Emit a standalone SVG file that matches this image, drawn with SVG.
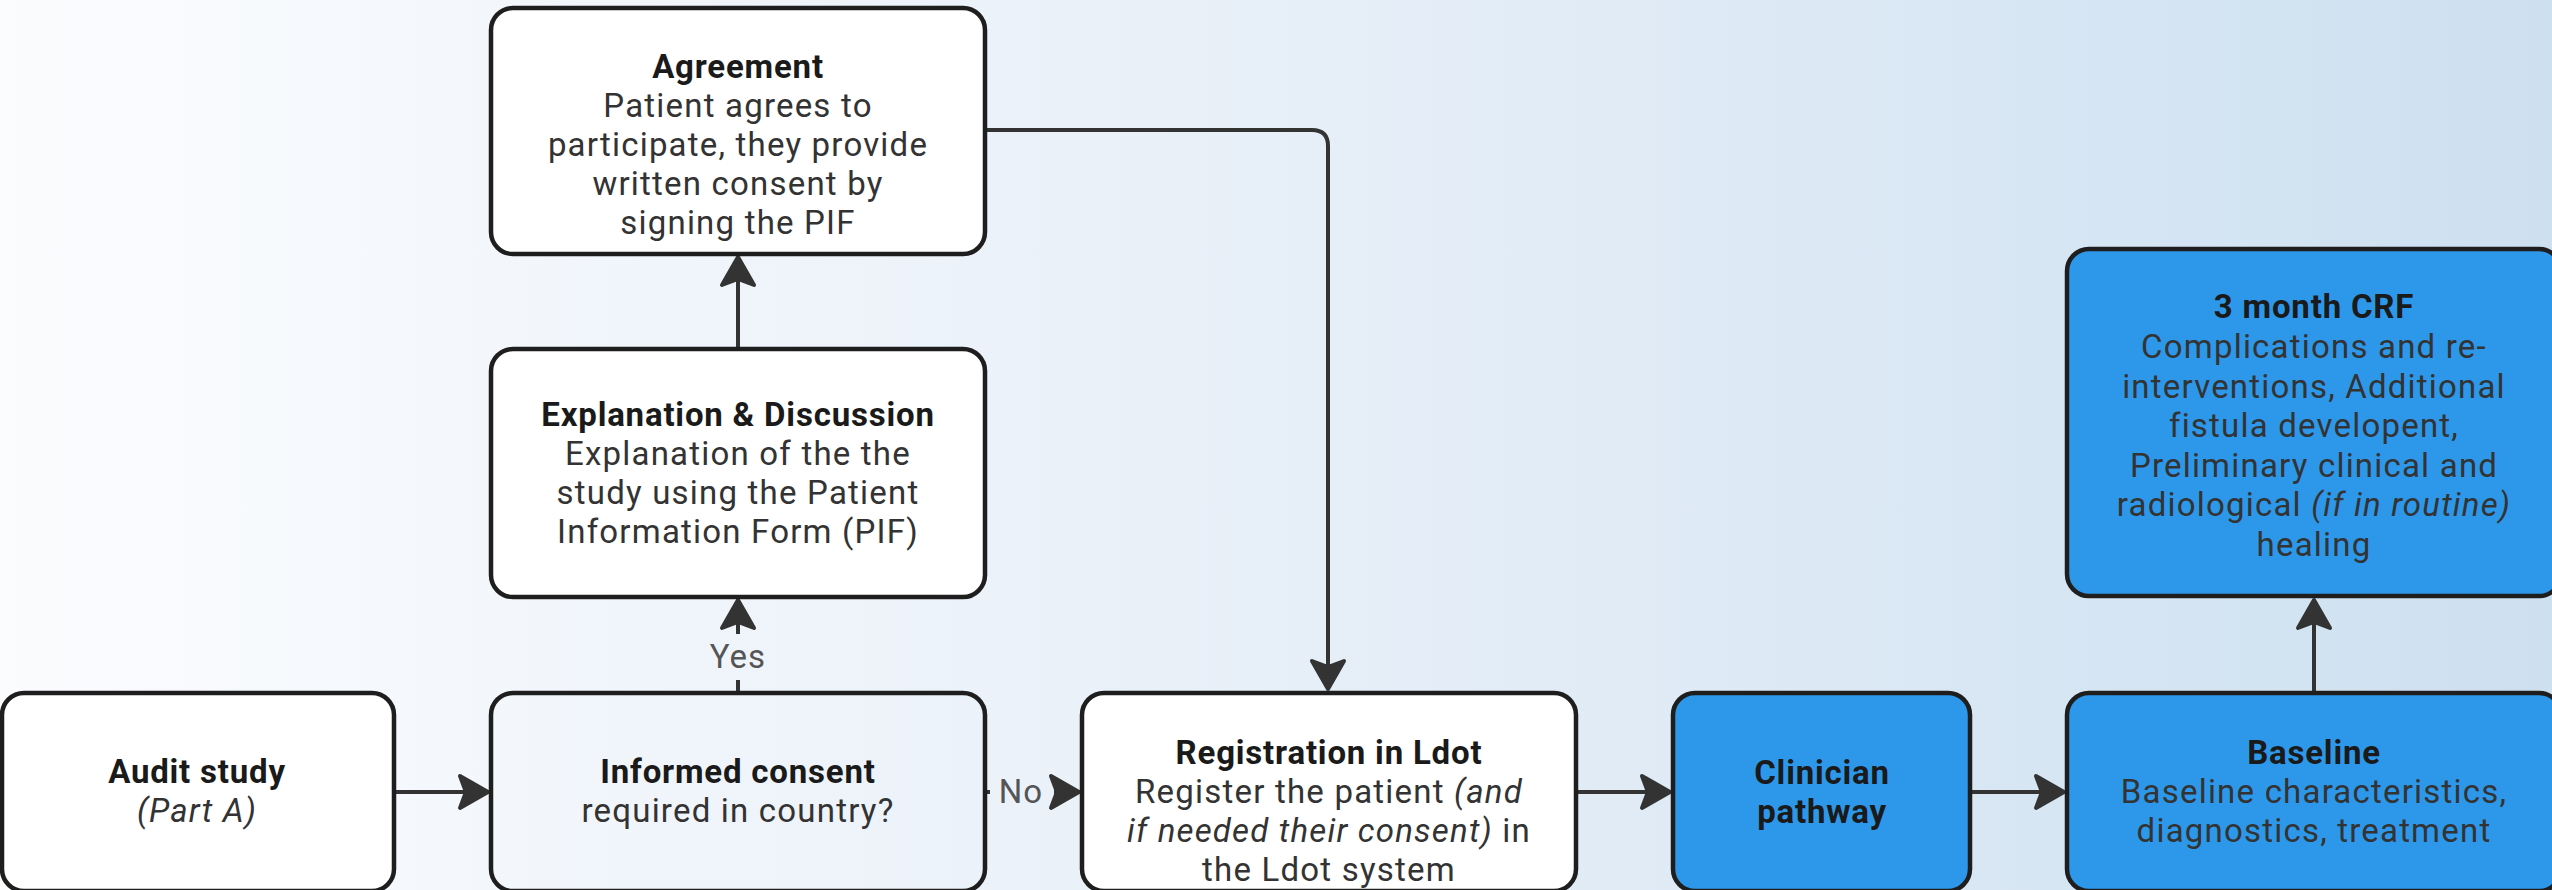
<svg xmlns="http://www.w3.org/2000/svg" width="2552" height="890" viewBox="0 0 2552 890">
<defs>
<linearGradient id="bg" x1="0" y1="0" x2="1" y2="0">
<stop offset="0" stop-color="#fbfcfe"/>
<stop offset="0.5" stop-color="#e7eff8"/>
<stop offset="1" stop-color="#cde0f0"/>
</linearGradient>
<marker id="arr" markerUnits="userSpaceOnUse" viewBox="-34 -22 38 44" refX="0" refY="0" markerWidth="38" markerHeight="44" orient="auto">
<path d="M0 0 L-28 -16 L-22 0 L-28 16 Z" fill="#333" stroke="#333" stroke-width="4" stroke-linejoin="round"/>
</marker>
</defs>
<style>
.box{stroke:#1e1e1e;stroke-width:4.5}
.white{fill:#ffffff}
.clear{fill:none}
.blue{fill:#2d98ea}
.t{font-family:Roboto,"Liberation Sans",sans-serif;text-anchor:middle;font-size:33px;fill:#333;letter-spacing:1.2px}
.b{font-weight:bold;fill:#1a1a1a;letter-spacing:0.8px}
.i{font-style:italic}
.lbl{font-family:Roboto,"Liberation Sans",sans-serif;text-anchor:middle;font-size:33px;fill:#555;letter-spacing:1px}
.c{fill:none;stroke:#333;stroke-width:4}
</style>
<rect x="0" y="0" width="2552" height="890" fill="url(#bg)"/>

<g id="connectors">
<path class="c" d="M394 792 H488" marker-end="url(#arr)"/>
<path class="c" d="M738 693 V680"/>
<path class="c" d="M738 634 V600" marker-end="url(#arr)"/>
<text class="lbl" x="738" y="668">Yes</text>
<path class="c" d="M738 349 V257" marker-end="url(#arr)"/>
<path class="c" d="M985 792 H990"/>
<text class="lbl" x="1021" y="803">No</text>
<path class="c" d="M1054 792 H1079" marker-end="url(#arr)"/>
<path class="c" d="M985 130 H1312 Q1328 130 1328 146 V689" marker-end="url(#arr)"/>
<path class="c" d="M1576 792 H1670" marker-end="url(#arr)"/>
<path class="c" d="M1970 792 H2064" marker-end="url(#arr)"/>
<path class="c" d="M2314 693 V600" marker-end="url(#arr)"/>
</g>

<g id="audit">
<rect class="box white" x="2" y="693" width="392" height="198" rx="22"/>
<text class="t b" x="197" y="783">Audit study</text>
<text class="t i" x="197" y="822">(Part A)</text>
</g>

<g id="informed">
<rect class="box clear" x="491" y="693" width="494" height="198" rx="22"/>
<text class="t b" x="738" y="783">Informed consent</text>
<text class="t" x="738" y="822">required in country?</text>
</g>

<g id="explanation">
<rect class="box white" x="491" y="349" width="494" height="248" rx="22"/>
<text class="t b" x="738" y="426">Explanation &amp; Discussion</text>
<text class="t" x="738" y="465">Explanation of the the</text>
<text class="t" x="738" y="504">study using the Patient</text>
<text class="t" x="738" y="543">Information Form (PIF)</text>
</g>

<g id="agreement">
<rect class="box white" x="491" y="8" width="494" height="246" rx="22"/>
<text class="t b" x="738" y="78">Agreement</text>
<text class="t" x="738" y="117">Patient agrees to</text>
<text class="t" x="738" y="156">participate, they provide</text>
<text class="t" x="738" y="195">written consent by</text>
<text class="t" x="738" y="234">signing the PIF</text>
</g>

<g id="registration">
<rect class="box white" x="1082" y="693" width="494" height="198" rx="22"/>
<text class="t b" x="1329" y="764">Registration in Ldot</text>
<text class="t" x="1329" y="803">Register the patient <tspan class="i">(and</tspan></text>
<text class="t" x="1329" y="842"><tspan class="i">if needed their consent)</tspan> in</text>
<text class="t" x="1329" y="881">the Ldot system</text>
</g>

<g id="clinician">
<rect class="box blue" x="1673" y="693" width="297" height="198" rx="22"/>
<text class="t b" x="1822" y="784">Clinician</text>
<text class="t b" x="1822" y="823">pathway</text>
</g>

<g id="baseline">
<rect class="box blue" x="2067" y="693" width="494" height="198" rx="22"/>
<text class="t b" x="2314" y="764">Baseline</text>
<text class="t" x="2314" y="803">Baseline characteristics,</text>
<text class="t" x="2314" y="842">diagnostics, treatment</text>
</g>

<g id="crf">
<rect class="box blue" x="2067" y="249" width="494" height="347" rx="22"/>
<text class="t b" x="2314" y="318">3 month CRF</text>
<text class="t" x="2314" y="358">Complications and re-</text>
<text class="t" x="2314" y="398">interventions, Additional</text>
<text class="t" x="2314" y="437">fistula developent,</text>
<text class="t" x="2314" y="477">Preliminary clinical and</text>
<text class="t" x="2314" y="516">radiological <tspan class="i">(if in routine)</tspan></text>
<text class="t" x="2314" y="556">healing</text>
</g>
</svg>
